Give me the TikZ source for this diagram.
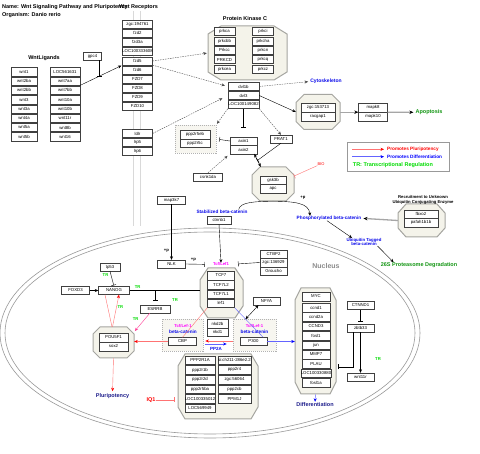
\documentclass[tikz,border=0pt]{standalone}
\usepackage{fontspec}
\setmainfont{Liberation Sans}
\usetikzlibrary{arrows.meta}

\definecolor{cplxfill}{RGB}{244,243,234}
\definecolor{cplxline}{RGB}{165,165,160}
\definecolor{grpfill}{RGB}{247,246,240}
\definecolor{labblue}{RGB}{10,10,235}
\definecolor{labnavy}{RGB}{30,30,140}
\definecolor{labgreen}{RGB}{20,150,20}
\definecolor{trgreen}{RGB}{0,220,0}
\definecolor{plured}{RGB}{255,115,115}
\definecolor{pinkred}{RGB}{255,60,150}
\definecolor{difblue}{RGB}{100,100,255}
\definecolor{tcfmag}{RGB}{255,0,255}

\newcommand{\genefont}{\fontsize{4.3}{5}\selectfont}
\newcommand{\bigfont}{\fontsize{5.5}{6}\selectfont\bfseries}
\newcommand{\lblfont}{\fontsize{4.7}{5.2}\selectfont\bfseries}
\newcommand{\plusfont}{\fontsize{4.2}{4.6}\selectfont\bfseries}

% octagon complex: name, x1, y1, x2, y2, corner dx, corner dy
\newcommand{\octo}[7]{%
  \path[cplx] (#2+#6,#3) -- (#4-#6,#3) -- (#4,#3+#7) -- (#4,#5-#7)
    -- (#4-#6,#5) -- (#2+#6,#5) -- (#2,#5-#7) -- (#2,#3+#7) -- cycle;
  \node[inner sep=0pt, minimum width=#4-#2, minimum height=#5-#3] (#1) at ({(#2+#4)/2},{(#3+#5)/2}) {};}

\begin{document}
\begin{tikzpicture}[
    x=1pt, y=-1pt,
    > = {Stealth[length=3.5pt,width=3pt]}, % arrow head style
    line width=0.4pt,
    gene/.style={draw=black!75, fill=white, inner sep=0pt, minimum height=8.5pt, font=\genefont},
    cplx/.style={draw=cplxline, fill=cplxfill, line width=1pt},
    grp/.style={draw=black!30, dash pattern=on 1pt off 1pt, fill=grpfill, line width=0.7pt, inner sep=0pt},
    biglab/.style={font=\bigfont, inner sep=0pt},
    lbl/.style={font=\lblfont, inner sep=0pt},
    plab/.style={font=\plusfont, inner sep=0pt},
    tr/.style={font=\plusfont, text=trgreen, inner sep=0pt},
    inh/.style={-{Bar[width=5pt]}},
    dash arrow/.style={->, dash pattern=on 1.5pt off 1pt, draw=black!70},
    grey arrow/.style={-{Stealth[length=4pt,width=3.5pt,black]}, draw=black!35, line width=1.3pt},
    red arrow/.style={-{Stealth[length=3.5pt,width=3pt,red]}, draw=plured},
    blue arrow/.style={-{Stealth[length=3.5pt,width=3pt,blue]}, draw=difblue}
  ]
\useasboundingbox (0,0) rectangle (480,454);
\fill[white] (0,0) rectangle (480,454);

% nucleus
\draw[black!40, line width=0.6pt] (210,333) ellipse [x radius=210pt, y radius=105pt];
\draw[black!40, line width=0.6pt] (210,333) ellipse [x radius=205pt, y radius=101pt];
\node[font=\fontsize{7}{7}\selectfont\bfseries, text=black!45, inner sep=0pt] (nuc) at (326,266) {Nucleus};

% membrane
\draw[black!15, line width=0.8pt] (133,11) -- (133,226) (140,11) -- (140,226);

% titles
\node[biglab, anchor=west] (name) at (2,7) {Name: Wnt Signaling Pathway and Pluripotency};
\node[biglab, anchor=west] (org) at (2,15) {Organism: Danio rerio};
\node[biglab, anchor=west] (wntrec) at (119,7) {Wnt Receptors};
\node[biglab] (wntlig) at (44,58) {WntLigands};
\node[biglab] (pkclab) at (245,19) {Protein Kinase C};

% ligands
\foreach \g [count=\i] in {wnt1,wnt2ba,wnt2bb,wnt3,wnt3a,wnt4a,wnt5a,wnt5b}
  \node[gene, minimum width=26, minimum height=8.3] (ligl\i) at (24,{62.4+9.3*\i}) {\g};
\foreach \g [count=\i] in {LOC561631,wnt7aa,wnt7bb,wnt10a,wnt10b,wnt11r,wnt8b,wnt16}
  \node[gene, minimum width=30, minimum height=8.3] (ligr\i) at (65,{62.4+9.3*\i}) {\g};
\node[gene, minimum width=18, minimum height=8] (gpc) at (92.5,56) {gpc4};

% receptors
\foreach \g [count=\i] in {zgc:194761,fzd2,fzd3a,LOC100333608}
  \node[gene, minimum width=30, minimum height=8] (rec\i) at (137.5,{15+9*\i}) {\g};
\foreach \g [count=\i] in {fzd5,fzd6,FZD7,FZD8,FZD9,FZD10}
  \node[gene, minimum width=30, minimum height=8] (fz\i) at (137.5,{52+9*\i}) {\g};
\foreach \g [count=\i] in {ldlr,lrp5,lrp6}
  \node[gene, minimum width=30, minimum height=8] (lrp\i) at (137.5,{124.5+9*\i}) {\g};

% protein kinase C
\octo{pkc}{208}{26}{287}{80}{13}{8}
\foreach \g [count=\i] in {prkca,prkcbb,Prkcc,PRKCD,prkcea}
  \node[gene, minimum width=21, minimum height=8] (pkcl\i) at (224.5,{22.4+9.3*\i}) {\g};
\foreach \g [count=\i] in {prkci,prkcha,prkcn,prkcq,prkcz}
  \node[gene, minimum width=21, minimum height=8] (pkcr\i) at (263,{22.4+9.3*\i}) {\g};

% dvl
\foreach \g [count=\i] in {dvl1b,dvl3,LOC100149082}
  \node[gene, minimum width=31, minimum height=8] (dvl\i) at (243.5,{77.5+9*\i}) {\g};
\node[lbl, font=\fontsize{5}{5}\selectfont\bfseries, text=labblue] (cyto) at (326,81.5) {Cytoskeleton};

% apoptosis branch
\octo{zgcx}{296}{94.5}{340}{129.5}{8}{8}
\node[gene, minimum width=34, minimum height=9] (zgc1) at (318,107.5) {zgc:153713};
\node[gene, minimum width=34, minimum height=9] (zgc2) at (318,116.5) {racgap1};
\node[gene, minimum width=29, minimum height=9] (mapk1) at (373,107.5) {mapk8};
\node[gene, minimum width=29, minimum height=9] (mapk2) at (373,116.5) {mapk10};
\node[biglab, text=labgreen] (apop) at (429,112.3) {Apoptosis};

% legend
\node[draw=black!40, line width=1pt, minimum width=102, minimum height=29, inner sep=0pt] (legend) at (398.3,157.2) {};
\coordinate (legr) at (352,149.3);
\coordinate (legb) at (352,156.7);
\node[lbl, text=red, anchor=west] (legpp) at (387,149.3) {Promotes Pluripotency};
\node[lbl, text=blue, anchor=west] (legpd) at (387,156.7) {Promotes Differentiation};
\node[biglab, text=trgreen, anchor=west] (legtr) at (352.7,165) {TR: Transcriptional Regulation};

% destruction complex
\node[grp, minimum width=41, minimum height=28] (ppgrp) at (195.5,139) {};
\node[gene, minimum width=30, minimum height=8.5] (pp1) at (195,134.5) {ppp2r5eb};
\node[gene, minimum width=30, minimum height=8.5] (pp2) at (195,143) {ppp2r5c};
\node[gene, minimum width=27, minimum height=8.5] (axin1) at (243.5,141) {axin1};
\node[gene, minimum width=27, minimum height=8.5] (axin2) at (243.5,149.5) {axin2};
\node[gene, minimum width=22, minimum height=8] (frat) at (281,139) {FRAT1};
\node[gene, minimum width=29, minimum height=8] (csnk) at (208,177) {csnk1da};
\octo{gskx}{252}{167}{294}{201}{8}{8}
\node[gene, minimum width=26, minimum height=8.5] (gsk1) at (273,180) {gsk3b};
\node[gene, minimum width=26, minimum height=8.5] (gsk2) at (273,188.5) {apc};
\node[plab, font=\fontsize{4}{4}\selectfont, text=red] (bio) at (321,164) {BIO};

% beta-catenin fate
\node[lbl, text=labblue] (stab) at (222,211.5) {Stabilized beta-catenin};
\node[gene, minimum width=24, minimum height=8] (ctnnb1) at (219,220) {ctnnb1};
\node[lbl, text=labblue] (phos) at (329,218.3) {Phosphorylated beta-catenin};
\node[plab] (pphos) at (303,198) {+p};
\node[lbl, font=\fontsize{4.3}{4.6}\selectfont\bfseries, text=labblue, align=center] (ubiq) at (364,242) {Ubiquitin Tagged\\beta-catenin};
\node[biglab, text=labgreen] (prot) at (419,265) {26S Proteasome Degradation};
\octo{fbx}{398}{204}{445}{237}{8}{9}
\node[gene, minimum width=34, minimum height=8.5] (fbx1) at (421,214) {fbxo2};
\node[gene, minimum width=34, minimum height=8.5] (fbx2) at (421,222.5) {pafah1b1b};
\node[plab, align=center] (recr) at (423,200) {Recruitment to Unknown\\Ubiquitin Conjugating Enzyme};

% nucleus: Tcf/Lef
\node[gene, minimum width=28, minimum height=8] (map3k7) at (171.5,200) {map3k7};
\node[gene, minimum width=28, minimum height=8] (nlk) at (171.5,264) {NLK};
\node[plab] (pnlk) at (166.5,250.5) {+p};
\node[plab] (ptcf) at (193.5,259.5) {+p};
\node[plab, text=tcfmag] (tcflbl) at (221,264.5) {Tcf/Lef1};
\foreach \g [count=\i] in {CTBP2,zgc:136929,Groucho}
  \node[gene, minimum width=27, minimum height=8.5] (ctbp\i) at (273.5,{245.5+8.5*\i}) {\g};
\octo{tcfx}{200}{268}{243}{318}{8}{12}
\foreach \g [count=\i] in {TCF7,TCF7L2,TCF7L1,lef1}
  \node[gene, minimum width=27, minimum height=8.5] (tcf\i) at (221,{266.2+9.3*\i}) {\g};

% pluripotency network
\node[gene, minimum width=20, minimum height=8] (tp53) at (110,267) {tp53};
\node[gene, minimum width=28, minimum height=8] (foxd3) at (75.5,290.5) {FOXD3};
\node[gene, minimum width=31, minimum height=8] (nanog) at (114,290.5) {NANOG};
\node[gene, minimum width=30, minimum height=8] (esrrb) at (155,309) {ESRRB};
\octo{poux}{93}{327}{134}{358}{7}{7}
\node[gene, minimum width=29, minimum height=9] (pou1) at (113.5,337.5) {POU5F1};
\node[gene, minimum width=29, minimum height=9] (pou2) at (113.5,346.5) {sox2};
\node[biglab, text=labnavy] (plur) at (112.5,396) {Pluripotency};
\node[tr] (tr1) at (105.5,275) {TR};
\node[tr] (tr2) at (137.7,286.7) {TR};
\node[tr] (tr3) at (175,300) {TR};
\node[tr] (tr4) at (135.7,319.3) {TR};
\node[tr] (tr5) at (120.3,307.3) {TR};
\node[tr] (tr6) at (378,359) {TR};

% co-activators
\node[grp, minimum width=41, minimum height=32] (cbpgrp) at (182.5,335.5) {};
\node[plab, text=tcfmag] (cbptcf) at (183,326.5) {Tcf/Lef-1};
\node[lbl, text=labblue] (cbpbc) at (183,332) {beta-catenin};
\node[gene, minimum width=28, minimum height=8] (cbp) at (182.5,341.5) {CBP};
\node[gene, minimum width=21, minimum height=8.5] (nkd1) at (217.5,323.5) {nkd2b};
\node[gene, minimum width=21, minimum height=8.5] (nkd2) at (217.5,332) {nkd1};
\node[grp, minimum width=43, minimum height=32] (p3grp) at (254.5,335.5) {};
\node[plab, text=tcfmag] (p3tcf) at (254.5,326.5) {Tcf/Lef-1};
\node[lbl, text=labblue] (p3bc) at (254.5,332) {beta-catenin};
\node[gene, minimum width=27, minimum height=8] (p300) at (253.5,341.5) {P300};
\node[lbl, font=\fontsize{4.5}{4.5}\selectfont\bfseries, text=labblue] (pp2a) at (216,348.5) {PP2A};
\node[gene, minimum width=27, minimum height=8] (nfya) at (266.5,301) {NFYA};

% PP2A complex
\octo{ppx}{178}{354}{258}{419}{7}{12}
\foreach \g [count=\i] in {PPP2R1A,ppp2r1b,ppp2r2d,ppp2r5ba,LOC100335012,LOC569949}
  \node[gene, minimum width=30, minimum height=8.5] (ppl\i) at (200,{350.7+9.6*\i}) {\g};
\foreach \g [count=\i] in {si:ch211-286e2.2,ppp2r4,zgc:56064,ppp2cb,PPM1J}
  \node[gene, minimum width=33, minimum height=8.5] (ppr\i) at (234.5,{350.7+9.6*\i}) {\g};
\node[biglab, text=red] (iq1) at (151,400) {IQ1};

% target genes
\octo{mycx}{295}{288}{336}{394}{6}{12}
\node[gene, minimum width=28, minimum height=8.5] (myc0) at (316,296.5) {MYC};
\foreach \g [count=\i] in {ccnd1,ccnd2a,CCND3,fosl1,jun,MMP7,PLAU,LOC100330880,fosl1a}
  \node[gene, minimum width=28, minimum height=8.5] (myc\i) at (316,{298.1+9.4*\i}) {\g};
\node[biglab, text=labnavy] (diff) at (315,405) {Differentiation};
\node[gene, minimum width=27, minimum height=8] (ctnnd) at (360.5,305.5) {CTNND1};
\node[gene, minimum width=27, minimum height=8] (zbtb) at (360.5,328) {zbtb33};
\node[gene, minimum width=27, minimum height=8] (w11r) at (360.5,377) {wnt11r};
\coordinate (zmyc) at (338,367);

% connectors: membrane and cytoplasm
\draw[->, shorten >=1pt] (ligr2.south east) -- coordinate[pos=0.45] (gpcend) (fz1.south west);
\draw[inh] (gpc.south -| gpcend) -- (gpcend);
\draw[dash arrow, shorten >=1pt] (fz1.east) -- (pkc.west);
\draw[dash arrow, shorten >=3pt] (fz1.south east) -- (dvl1.west);
\draw[dash arrow, shorten >=6pt] (lrp1.east) -- (dvl2.west);
\draw[dash arrow, shorten >=2pt] (dvl1.east) -- (cyto.west);
\draw[->] (dvl2.east) -- (zgcx.west);
\draw[dash arrow, shorten >=1pt] (dvl3.south west) -- (ppgrp.north east);
\draw[dash arrow] (dvl3.south east) -- (frat.north);
\draw[inh, shorten >=9pt] (dvl3.south) -- (axin1.north);
\draw[inh, shorten >=3pt] (axin1.west) -- (ppgrp.east);
\draw[dash arrow, shorten >=3pt] (csnk.north) -- (axin2.south west);
\draw[<->, line width=0.6pt] ([xshift=-3pt]axin2.south east) -- coordinate[midway] (axgsk) ([xshift=9pt]gskx.north west);
\draw[inh] (frat.south) -- (axgsk);
\draw[inh, draw=plured] (bio.south west) -- ([yshift=8pt]gskx.east);
\draw[grey arrow] (zgcx.east |- zgc1.south) -- (mapk1.south west);
\draw[grey arrow, shorten >=2pt] (mapk1.south east) -- (apop.west);
\draw[red arrow] (legr) -- ([xshift=-3pt]legpp.west);
\draw[blue arrow] (legb) -- ([xshift=-3pt]legpd.west);

% connectors: beta-catenin
\draw[->] ([xshift=-9pt]stab.north east) .. controls (240,202) and (255,201.5) .. (gskx.south)
  .. controls (295,201.5) and (309,203) .. ([xshift=-19pt]phos.north);
\draw[grey arrow, shorten >=2pt] (fbx.west) -- (phos.east);
\draw[->] ([xshift=-2pt]phos.south) -- ([xshift=-12pt]ubiq.north);
\draw[->] ([xshift=-4pt]ubiq.south east) -- ([xshift=13pt]prot.north west);

% connectors: nucleus
\draw[->] (map3k7.south) -- (nlk.north);
\draw[inh, shorten >=8pt] (nlk.east) -- (tcflbl.west);
\draw[->] (ctnnb1.south) -- (tcflbl.north);
\draw[inh, shorten >=9pt] (ctbp2.west) -- (tcflbl.east);
\draw[inh, shorten >=1pt] (tp53.south) -- (nanog.north);
\draw[->] (foxd3.east) -- (nanog.west);
\draw (nanog.east) -- (tcfx.west |- nanog.east);
\draw[inh, shorten >=4pt] (esrrb.north |- nanog.east) -- (esrrb.north);
\draw[draw=plured] ([xshift=-1.5pt]poux.north) -- ([xshift=-9pt]nanog.south);
\draw[red arrow] ([xshift=-1pt]poux.north) -- ([xshift=5pt]nanog.south);
\draw[->, draw=pinkred, shorten >=1pt] ([xshift=10pt]esrrb.south west) -- ([yshift=-5pt]poux.north east);
\draw[draw=plured] (tcf4.south west) -- (cbp.north);
\draw[draw=difblue] (tcf4.south east) -- ([xshift=-4pt]p300.north east);
\draw[<->] ([xshift=-8pt]nfya.south) -- ([xshift=-9pt]p3grp.north);
\draw[red arrow, shorten <=0pt, shorten >=2pt] ([yshift=-5.5pt]p3grp.west) -- ([yshift=-5.5pt]cbpgrp.east);
\draw[blue arrow, shorten <=2pt, shorten >=6pt] ([yshift=-8.5pt]cbpgrp.east) -- ([yshift=-8.5pt]p3grp.west);
\draw[red arrow] (cbp.west) -- (poux.east |- cbp.west);
\draw[red arrow, shorten >=2pt] (poux.south) -- (plur.north);
\draw[inh, draw=plured, shorten >=3pt] (iq1.east) -- (ppx.west |- iq1.east);
\draw[blue arrow] (p300.east) -- (mycx.west |- p300.east);
\draw[blue arrow, shorten >=1pt] (mycx.south) -- (diff.north);
\draw[inh, shorten >=2pt] (ctnnd.south) -- (zbtb.north);
\draw[inh] ([xshift=-7pt]zbtb.south) |- (zmyc);
\draw[->] (zbtb.south) -- (w11r.north);
\end{tikzpicture}
\end{document}
